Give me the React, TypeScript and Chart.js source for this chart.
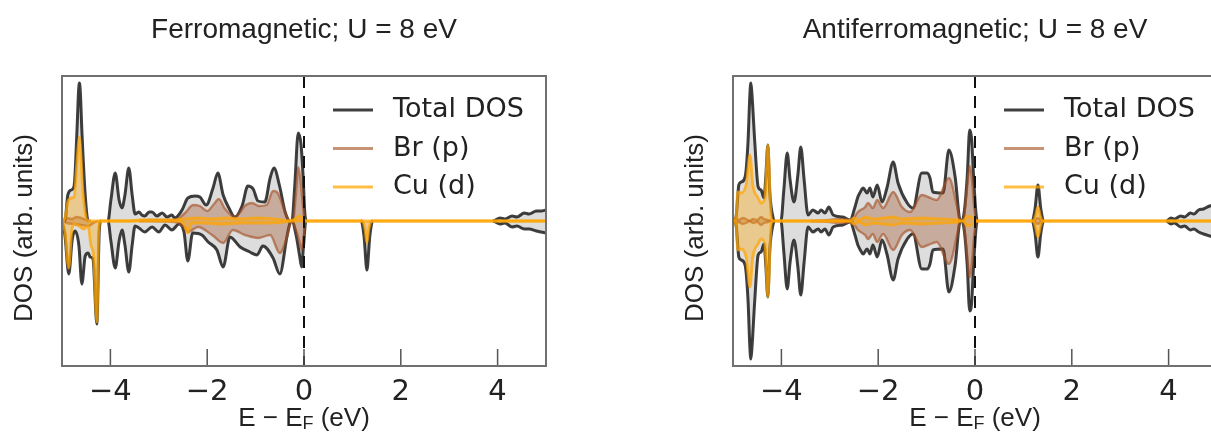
import React, { useEffect, useRef } from 'react';
import { Chart, registerables } from 'chart.js';

Chart.register(...registerables);

type Pt = [number, number];

// ---------- axes / labels ----------
const energyTicks = [-4, -2, 0, 2, 4];
const energyMin = -5;
const energyMax = 5;
const dosLimit = 14.5;
const fermiLevel = 0;
const legendLabels = ['Total DOS', 'Br (p)', 'Cu (d)'];
const panelTitles = ['Ferromagnetic; U = 8 eV', 'Antiferromagnetic; U = 8 eV'];
const xAxisLabelParts = ['E \u2212 E', 'F', ' (eV)'];
const yAxisLabel = 'DOS (arb. units)';

// ---------- Ferromagnetic panel: [E - E_F (eV), DOS] ----------
const fmTotalUp: Pt[] = [
  [-5.0, 0], [-4.94, 0], [-4.88, 2.6], [-4.81, 3.1], [-4.75, 3.5], [-4.69, 9.1], [-4.66, 12.8], [-4.64, 13.8], [-4.62, 12.8], [-4.59, 9.1], [-4.52, 2.6], [-4.46, 0],
  [-4.05, 0], [-3.99, 2.1], [-3.9, 4.8], [-3.82, 2.1], [-3.76, 1.3], [-3.7, 2.6], [-3.62, 5.3], [-3.55, 2.6], [-3.49, 0.7],
  [-3.41, 0.9], [-3.35, 0.6], [-3.29, 0.5], [-3.2, 0.9], [-3.14, 0.9], [-3.04, 0.5], [-2.93, 0.8], [-2.83, 0.4], [-2.73, 0.6], [-2.67, 0.3],
  [-2.52, 1.1], [-2.4, 2.3], [-2.25, 2.5], [-2.15, 2.4], [-2.02, 1.6], [-1.88, 3.3], [-1.78, 4.8], [-1.67, 2.6], [-1.55, 1.3], [-1.43, 0.4],
  [-1.28, 1.5], [-1.16, 3.5], [-1.05, 3.2], [-0.95, 2.0], [-0.81, 1.9], [-0.7, 4.3], [-0.62, 5.3], [-0.5, 3.4], [-0.39, 0.9], [-0.29, 0],
  [-0.25, 0], [-0.19, 3.6], [-0.12, 8.8], [-0.06, 7.6], [-0.02, 4.6], [0.02, 0.6], [0.06, 0],
  [3.9, 0], [4.05, 0.3], [4.15, 0.2], [4.3, 0.5], [4.4, 0.4], [4.55, 0.8], [4.65, 0.7], [4.8, 1.0], [4.9, 1.0], [5.0, 1.1],
];
const fmTotalDown: Pt[] = [
  [-5.0, 0], [-4.94, -1.4], [-4.86, -5.3], [-4.79, -1.9], [-4.73, -1.0], [-4.65, -2.5], [-4.59, -6.3], [-4.52, -3.5], [-4.46, -3.2],
  [-4.42, -3.6], [-4.36, -3.8], [-4.28, -10.3], [-4.23, -1.0], [-4.19, 0],
  [-4.05, 0], [-3.99, -2.0], [-3.9, -4.7], [-3.82, -2.0], [-3.76, -0.9], [-3.7, -2.4], [-3.62, -5.1], [-3.55, -2.4], [-3.49, -0.5],
  [-3.41, -0.7], [-3.29, -1.1], [-3.14, -0.6], [-3.0, -1.1], [-2.87, -0.4], [-2.73, -0.9], [-2.58, -0.3], [-2.48, -1.1], [-2.4, -4.0],
  [-2.3, -1.2], [-2.11, -1.4], [-1.98, -2.1], [-1.8, -2.9], [-1.67, -4.6], [-1.53, -1.6], [-1.32, -2.6], [-1.12, -3.1], [-0.97, -3.4],
  [-0.85, -2.5], [-0.64, -3.7], [-0.5, -5.3], [-0.35, -1.5], [-0.29, -0.2], [-0.25, 0],
  [-0.16, -1.5], [-0.09, -3.5], [-0.05, -4.6], [-0.01, -2.5], [0.04, 0],
  [1.18, 0], [1.24, -1.5], [1.3, -4.9], [1.36, -1.5], [1.42, 0],
  [3.9, 0], [4.05, -0.3], [4.15, -0.2], [4.3, -0.6], [4.4, -0.5], [4.55, -0.8], [4.65, -0.8], [4.8, -1.0], [4.9, -1.1], [5.0, -1.2],
];
const fmBrUp: Pt[] = [
  [-5.0, 0], [-4.9, 0.3], [-4.8, 0.2], [-4.7, 0.4], [-4.6, 0.3], [-4.5, 0.1], [-4.4, 0], [-3.4, 0], [-3.2, 0.1], [-2.9, 0.1], [-2.67, 0.1],
  [-2.46, 0.8], [-2.29, 1.6], [-2.15, 1.5], [-2.0, 1.0], [-1.86, 1.7], [-1.76, 2.2], [-1.63, 1.2], [-1.43, 0.4], [-1.2, 1.6], [-1.07, 1.8],
  [-0.93, 1.5], [-0.77, 1.6], [-0.64, 3.0], [-0.56, 2.9], [-0.39, 0.9], [-0.29, 0],
  [-0.23, 0], [-0.17, 2.5], [-0.12, 5.4], [-0.06, 3.5], [0.0, 0.5], [0.04, 0], [5.0, 0],
];
const fmBrDown: Pt[] = [
  [-5.0, 0], [-4.9, -0.2], [-4.75, -0.3], [-4.6, -0.4], [-4.45, -0.5], [-4.35, -0.2], [-4.25, 0], [-3.4, 0], [-2.67, -0.1], [-2.5, -0.5],
  [-2.4, -1.1], [-2.19, -0.6], [-1.9, -1.4], [-1.67, -2.2], [-1.47, -0.9], [-1.22, -1.4], [-0.95, -1.7], [-0.7, -1.4], [-0.5, -3.2],
  [-0.35, -1.6], [-0.29, -0.4], [-0.25, 0], [-0.16, -1.0], [-0.09, -2.2], [-0.05, -2.9], [-0.01, -1.8], [0.03, 0], [5.0, 0],
];
const fmCuUp: Pt[] = [
  [-5.0, 0], [-4.94, 0.3], [-4.88, 1.9], [-4.81, 2.3], [-4.75, 2.4], [-4.69, 6.0], [-4.64, 8.4], [-4.57, 3.0], [-4.5, 0.3], [-4.46, 0],
  [-3.6, 0], [-3.4, 0.1], [-2.7, 0.1], [-2.5, 0.2], [-2.2, 0.3], [-1.9, 0.2], [-1.6, 0.3], [-1.3, 0.2], [-1.0, 0.3], [-0.6, 0.2], [-0.3, 0],
  [-0.18, 0.2], [-0.1, 0.5], [-0.03, 0.3], [0.04, 0], [5.0, 0],
];
const fmCuDown: Pt[] = [
  [-5.0, 0], [-4.94, -1.0], [-4.86, -4.7], [-4.8, -1.0], [-4.75, -0.3], [-4.65, -0.5], [-4.55, -0.8], [-4.46, -0.5], [-4.4, -2.5],
  [-4.35, -3.3], [-4.28, -10.1], [-4.24, -1.0], [-4.2, 0], [-2.6, 0], [-2.48, -0.3], [-2.4, -1.2], [-2.33, -0.2], [-2.1, -0.2],
  [-1.7, -0.3], [-1.3, -0.2], [-0.9, -0.2], [-0.4, -0.1], [-0.3, 0], [1.2, 0], [1.26, -0.8], [1.3, -2.2], [1.34, -0.8], [1.4, 0], [5.0, 0],
];

// ---------- Antiferromagnetic panel ----------
const afmTotalUp: Pt[] = [
  [-5.0, 0], [-4.94, 0.3], [-4.88, 3.6], [-4.83, 3.9], [-4.75, 4.4], [-4.69, 7.9], [-4.65, 12.8], [-4.63, 13.8], [-4.61, 12.8], [-4.55, 7.9], [-4.48, 3.4], [-4.42, 3.1],
  [-4.36, 2.3], [-4.32, 4.6], [-4.28, 7.6], [-4.24, 2.9], [-4.17, 0.3], [-4.13, 0],
  [-4.01, 0], [-3.95, 3.1], [-3.88, 6.8], [-3.82, 4.1], [-3.74, 1.9], [-3.66, 4.6], [-3.6, 7.4], [-3.53, 4.1], [-3.45, 0.6], [-3.35, 1.1],
  [-3.24, 0.8], [-3.18, 1.1], [-3.1, 0.8], [-3.02, 1.4], [-2.93, 0.6], [-2.73, 0.4], [-2.58, 0.1], [-2.48, 1.4], [-2.42, 2.4], [-2.38, 2.8],
  [-2.31, 3.3], [-2.23, 2.8], [-2.17, 3.3], [-2.11, 2.4], [-2.02, 3.6], [-1.92, 1.9], [-1.82, 3.3], [-1.69, 5.9], [-1.59, 3.8], [-1.4, 1.8],
  [-1.28, 1.3], [-1.1, 4.8], [-0.99, 4.8], [-0.93, 4.3], [-0.87, 2.9], [-0.66, 2.8], [-0.54, 7.1], [-0.41, 4.4], [-0.31, 0.1], [-0.27, 0],
  [-0.22, 1.0], [-0.16, 4.5], [-0.11, 9.1], [-0.07, 8.2], [-0.03, 4.5], [0.02, 0.8], [0.05, 0],
  [1.18, 0], [1.24, 1.2], [1.3, 3.6], [1.36, 1.2], [1.42, 0],
  [3.95, 0], [4.05, 0.3], [4.12, 0.2], [4.25, 0.5], [4.33, 0.4], [4.45, 0.8], [4.52, 0.7], [4.62, 1.1], [4.72, 1.2], [4.85, 1.5], [5.0, 1.6],
];
const afmTotalDown: Pt[] = [
  [-5.0, 0], [-4.94, -0.3], [-4.88, -3.6], [-4.83, -3.9], [-4.75, -4.4], [-4.69, -7.9], [-4.65, -12.8], [-4.63, -13.8], [-4.61, -12.8], [-4.55, -7.9], [-4.48, -3.4],
  [-4.42, -3.1], [-4.36, -2.3], [-4.32, -4.6], [-4.28, -7.6], [-4.24, -2.9], [-4.17, -0.3], [-4.13, 0],
  [-4.01, 0], [-3.95, -3.1], [-3.88, -6.8], [-3.82, -4.1], [-3.74, -1.9], [-3.66, -4.6], [-3.6, -7.4], [-3.53, -4.1], [-3.45, -0.6],
  [-3.35, -1.1], [-3.24, -0.8], [-3.18, -1.1], [-3.1, -0.8], [-3.02, -1.4], [-2.93, -0.6], [-2.73, -0.4], [-2.58, -0.1], [-2.48, -1.4],
  [-2.42, -2.4], [-2.38, -2.8], [-2.31, -3.3], [-2.23, -2.8], [-2.17, -3.3], [-2.11, -2.4], [-2.02, -3.6], [-1.92, -1.9], [-1.82, -3.3],
  [-1.69, -5.9], [-1.59, -3.8], [-1.4, -1.8], [-1.28, -1.3], [-1.1, -4.8], [-0.99, -4.8], [-0.93, -4.3], [-0.87, -2.9], [-0.66, -2.8],
  [-0.54, -7.1], [-0.41, -4.4], [-0.31, -0.1], [-0.27, 0],
  [-0.22, -1.0], [-0.16, -4.5], [-0.11, -9.0], [-0.07, -8.2], [-0.03, -4.5], [0.02, -0.8], [0.05, 0],
  [1.18, 0], [1.24, -1.2], [1.3, -3.6], [1.36, -1.2], [1.42, 0],
  [3.95, 0], [4.05, -0.3], [4.12, -0.2], [4.25, -0.6], [4.33, -0.5], [4.45, -0.9], [4.52, -0.8], [4.62, -1.1], [4.72, -1.3], [4.85, -1.5], [5.0, -1.7],
];
const afmBrUp: Pt[] = [
  [-5.0, 0], [-4.95, 0.3], [-4.88, 0.1], [-4.8, 0.3], [-4.73, 0.2], [-4.66, 0], [-4.58, 0.2], [-4.5, 0.1], [-4.42, 0.4], [-4.36, 0.2],
  [-4.28, 0.1], [-4.2, 0], [-3.4, 0], [-3.0, 0.1], [-2.8, 0.2], [-2.6, 0.1], [-2.56, 0], [-2.42, 0.9], [-2.27, 1.4], [-2.21, 1.8],
  [-2.11, 1.3], [-2.02, 2.1], [-1.9, 1.3], [-1.69, 2.9], [-1.51, 1.4], [-1.34, 0.9], [-1.1, 2.6], [-0.97, 2.4], [-0.79, 2.1], [-0.54, 4.3],
  [-0.37, 1.4], [-0.31, 0], [-0.25, 0], [-0.18, 2.5], [-0.11, 5.5], [-0.06, 4.0], [-0.02, 1.5], [0.03, 0], [1.2, 0], [1.3, 0.3], [1.4, 0], [5.0, 0],
];
const afmBrDown: Pt[] = [
  [-5.0, 0], [-4.95, -0.3], [-4.88, -0.1], [-4.8, -0.3], [-4.73, -0.2], [-4.66, 0], [-4.58, -0.2], [-4.5, -0.1], [-4.42, -0.4], [-4.36, -0.2],
  [-4.28, -0.1], [-4.2, 0], [-3.4, 0], [-3.0, -0.1], [-2.8, -0.2], [-2.6, -0.1], [-2.56, 0], [-2.42, -0.9], [-2.27, -1.4], [-2.21, -1.8],
  [-2.11, -1.3], [-2.02, -2.1], [-1.9, -1.3], [-1.69, -2.9], [-1.51, -1.4], [-1.34, -0.9], [-1.1, -2.6], [-0.97, -2.4], [-0.79, -2.1],
  [-0.54, -4.3], [-0.37, -1.4], [-0.31, 0], [-0.25, 0], [-0.18, -2.5], [-0.11, -5.6], [-0.06, -4.0], [-0.02, -1.5], [0.03, 0], [1.2, 0],
  [1.3, -0.3], [1.4, 0], [5.0, 0],
];
const afmCuUp: Pt[] = [
  [-5.0, 0], [-4.94, 0.3], [-4.9, 2.9], [-4.83, 2.8], [-4.73, 3.6], [-4.65, 6.6], [-4.59, 3.6], [-4.48, 2.3], [-4.42, 1.8], [-4.34, 2.3],
  [-4.28, 7.6], [-4.21, 0.3], [-4.17, 0], [-2.6, 0], [-2.5, 0.3], [-2.4, 0.1], [-2.25, 0.4], [-2.1, 0.2], [-1.9, 0.3], [-1.69, 0.4],
  [-1.5, 0.2], [-1.1, 0.3], [-0.7, 0.2], [-0.35, 0.1], [-0.25, 0], [-0.15, 0.5], [-0.05, 0.3], [0.03, 0], [1.2, 0], [1.25, 0.5],
  [1.3, 1.4], [1.35, 0.5], [1.4, 0], [5.0, 0],
];
const afmCuDown: Pt[] = [
  [-5.0, 0], [-4.94, -0.3], [-4.9, -2.9], [-4.83, -2.8], [-4.73, -3.6], [-4.65, -6.6], [-4.59, -3.6], [-4.48, -2.3], [-4.42, -1.8],
  [-4.34, -2.3], [-4.28, -7.6], [-4.21, -0.3], [-4.17, 0], [-2.6, 0], [-2.5, -0.3], [-2.4, -0.1], [-2.25, -0.4], [-2.1, -0.2], [-1.9, -0.3],
  [-1.69, -0.4], [-1.5, -0.2], [-1.1, -0.3], [-0.7, -0.2], [-0.35, -0.1], [-0.25, 0], [-0.15, -0.5], [-0.05, -0.3], [0.03, 0], [1.2, 0],
  [1.25, -0.6], [1.3, -1.6], [1.35, -0.6], [1.4, 0], [5.0, 0],
];

// ---------- styles ----------
const seriesStyles = [
  { line: 'rgba(0,0,0,0.75)', fill: 'rgba(150,150,150,0.32)', width: 3, hideZero: true },
  { line: 'rgba(165,80,35,0.62)', fill: 'rgba(160,82,45,0.36)', width: 2.4, hideZero: true },
  { line: 'rgba(255,165,0,0.72)', fill: 'rgba(255,165,0,0.36)', width: 2.8, hideZero: false },
];

const CANVAS_W = 620;
const CANVAS_H = 435;
const SANS = '"Liberation Sans", Arial, Helvetica, sans-serif';
const DEJAVU = '"DejaVu Sans", sans-serif';
const TEXT = '#222';

function buildDatasets(series: { up: Pt[]; down: Pt[] }[]) {
  const out: any[] = [];
  series.forEach((s, i) => {
    const st = seriesStyles[i];
    [s.up, s.down].forEach((arr) => {
      out.push({
        label: legendLabels[i],
        data: arr.map(([x, y]) => ({ x, y })),
        borderColor: st.line,
        backgroundColor: st.fill,
        borderWidth: st.width,
        borderJoinStyle: 'round',
        fill: 'origin',
        pointRadius: 0,
        cubicInterpolationMode: 'monotone',
        order: 3 - i,
        segment: st.hideZero
          ? {
              borderColor: (c: any) =>
                c.p0.parsed.y === 0 && c.p1.parsed.y === 0 ? 'rgba(0,0,0,0)' : undefined,
            }
          : undefined,
      });
    });
  });
  return out;
}

const decorPlugin = {
  id: 'dosDecor',
  afterDatasetsDraw(chart: any) {
    const { ctx, chartArea: a, scales } = chart;
    const x = scales.x;
    ctx.save();
    // Fermi level
    const xf = x.getPixelForValue(fermiLevel);
    ctx.strokeStyle = '#111';
    ctx.lineWidth = 2;
    ctx.setLineDash([12, 8]);
    ctx.beginPath();
    ctx.moveTo(xf, a.top);
    ctx.lineTo(xf, a.bottom);
    ctx.stroke();
    ctx.setLineDash([]);
    // inward ticks
    ctx.strokeStyle = '#555';
    ctx.lineWidth = 1.5;
    energyTicks.forEach((v) => {
      const px = x.getPixelForValue(v);
      ctx.beginPath();
      ctx.moveTo(px, a.bottom);
      ctx.lineTo(px, a.bottom - 17);
      ctx.stroke();
    });
    // frame
    ctx.strokeStyle = '#707070';
    ctx.lineWidth = 2;
    ctx.strokeRect(a.left, a.top, a.right - a.left, a.bottom - a.top);
    // legend
    ctx.font = `27px ${DEJAVU}`;
    ctx.textBaseline = 'middle';
    ctx.textAlign = 'left';
    legendLabels.forEach((lab, i) => {
      const y = a.top + 34 + i * 38.5;
      ctx.strokeStyle = seriesStyles[i].line;
      ctx.lineWidth = 2.8;
      ctx.beginPath();
      ctx.moveTo(a.right - 213, y);
      ctx.lineTo(a.right - 173, y);
      ctx.stroke();
      ctx.fillStyle = TEXT;
      ctx.fillText(lab, a.right - 153, y);
    });
    ctx.restore();
  },
  afterDraw(chart: any) {
    const { ctx, chartArea: a } = chart;
    ctx.save();
    ctx.fillStyle = TEXT;
    // x label with subscript
    const big = `26px ${SANS}`;
    const small = `18px ${SANS}`;
    ctx.font = big;
    const w0 = ctx.measureText(xAxisLabelParts[0]).width;
    const w2 = ctx.measureText(xAxisLabelParts[2]).width;
    ctx.font = small;
    const w1 = ctx.measureText(xAxisLabelParts[1]).width;
    const cx = (a.left + a.right) / 2;
    let sx = cx - (w0 + w1 + w2) / 2;
    const base = a.bottom + 60;
    ctx.textAlign = 'left';
    ctx.textBaseline = 'alphabetic';
    ctx.font = big;
    ctx.fillText(xAxisLabelParts[0], sx, base);
    sx += w0;
    ctx.font = small;
    ctx.fillText(xAxisLabelParts[1], sx, base + 3);
    sx += w1;
    ctx.font = big;
    ctx.fillText(xAxisLabelParts[2], sx, base);
    // y label
    ctx.translate(a.left - 37, (a.top + a.bottom) / 2 + 7);
    ctx.rotate(-Math.PI / 2);
    ctx.textAlign = 'center';
    ctx.textBaseline = 'middle';
    ctx.font = big;
    ctx.fillText(yAxisLabel, 0, 0);
    ctx.restore();
  },
};

function DosPanel({ title, series, left }: { title: string; series: { up: Pt[]; down: Pt[] }[]; left: number }) {
  const ref = useRef<HTMLCanvasElement>(null);
  useEffect(() => {
    const chart = new Chart(ref.current as HTMLCanvasElement, {
      type: 'line',
      data: { datasets: buildDatasets(series) },
      options: {
        animation: false,
        responsive: false,
        devicePixelRatio: 1,
        events: [],
        layout: { padding: { left: 62, right: 74, top: 0, bottom: 0 } },
        scales: {
          x: {
            type: 'linear',
            min: energyMin,
            max: energyMax,
            grid: { display: false },
            border: { display: false },
            afterBuildTicks: (axis: any) => {
              axis.ticks = energyTicks.map((v) => ({ value: v }));
            },
            afterFit: (axis: any) => {
              axis.height = 69;
            },
            ticks: {
              autoSkip: false,
              maxRotation: 0,
              padding: 1,
              color: TEXT,
              font: { family: DEJAVU, size: 29 },
              callback: (v: any) => (Number(v) < 0 ? '\u2212' + Math.abs(Number(v)) : String(v)),
            },
          },
          y: { type: 'linear', min: -dosLimit, max: dosLimit, display: false },
        },
        plugins: {
          legend: { display: false },
          tooltip: { enabled: false },
          title: {
            display: true,
            text: title,
            color: TEXT,
            font: { family: SANS, size: 28, weight: 'normal' },
            padding: { top: 13, bottom: 29.4 },
          },
        },
      } as any,
      plugins: [decorPlugin],
    });
    return () => chart.destroy();
  }, []);
  return (
    <canvas
      ref={ref}
      width={CANVAS_W}
      height={CANVAS_H}
      style={{ position: 'absolute', left, top: 0, width: CANVAS_W, height: CANVAS_H }}
    />
  );
}

export default function App() {
  const fm = [
    { up: fmTotalUp, down: fmTotalDown },
    { up: fmBrUp, down: fmBrDown },
    { up: fmCuUp, down: fmCuDown },
  ];
  const afm = [
    { up: afmTotalUp, down: afmTotalDown },
    { up: afmBrUp, down: afmBrDown },
    { up: afmCuUp, down: afmCuDown },
  ];
  return (
    <div
      style={{
        position: 'fixed',
        left: 0,
        top: 0,
        width: 1211,
        height: 435,
        overflow: 'hidden',
        background: '#fff',
      }}
    >
      <DosPanel title={panelTitles[0]} series={fm} left={0} />
      <DosPanel title={panelTitles[1]} series={afm} left={671} />
    </div>
  );
}
